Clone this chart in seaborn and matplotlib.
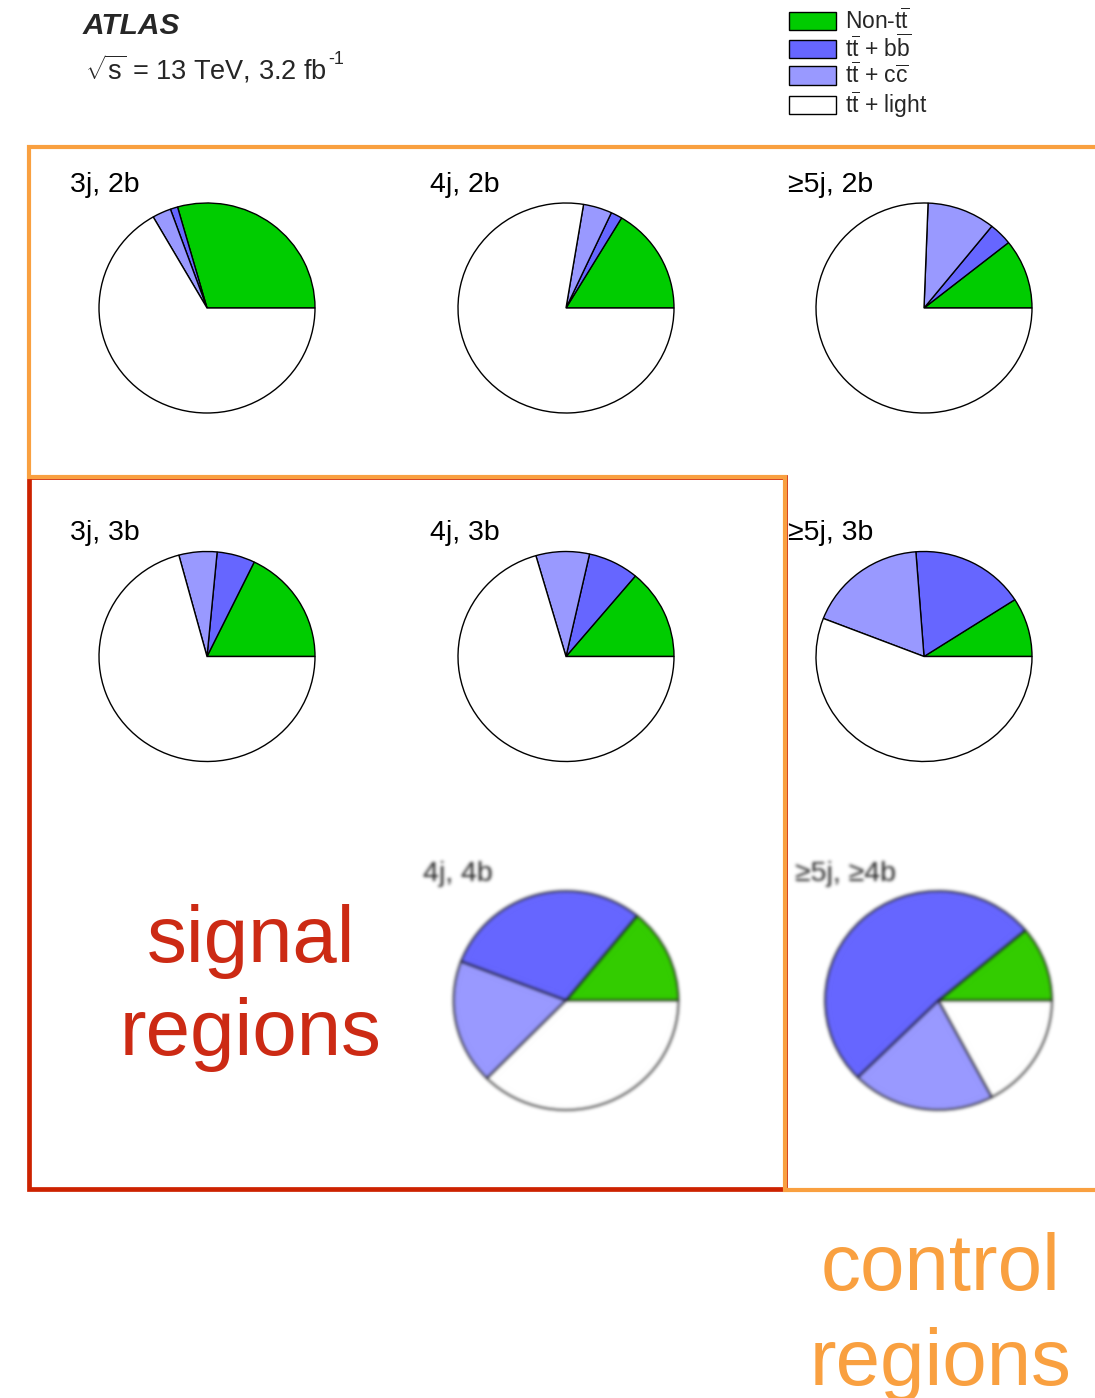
import numpy as np
import matplotlib
matplotlib.use("Agg")
import matplotlib.pyplot as plt
import seaborn as sns
from matplotlib.lines import Line2D
from matplotlib.patches import Rectangle

# Sample composition per analysis region (fractions of the total yield)
regions = ["3j, 2b", "4j, 2b", "\u22655j, 2b",
           "3j, 3b", "4j, 3b", "\u22655j, 3b",
           "4j, 4b", "\u22655j, \u22654b"]
non_tt = [0.294, 0.164, 0.107, 0.178, 0.139, 0.091, 0.141, 0.111]
tt_bb = [0.011, 0.017, 0.035, 0.057, 0.076, 0.171, 0.301, 0.513]
tt_cc = [0.028, 0.043, 0.102, 0.057, 0.080, 0.179, 0.184, 0.204]
tt_light = [0.667, 0.776, 0.756, 0.708, 0.705, 0.559, 0.374, 0.172]

legend_labels = [r"Non-t$\overline{\mathrm{t}}$",
                 r"t$\overline{\mathrm{t}}$ + b$\overline{\mathrm{b}}$",
                 r"t$\overline{\mathrm{t}}$ + c$\overline{\mathrm{c}}$",
                 r"t$\overline{\mathrm{t}}$ + light"]

sns.set_theme(style="white")
plt.rcParams["font.family"] = ["Liberation Sans", "DejaVu Sans"]
plt.rcParams["mathtext.fontset"] = "custom"
plt.rcParams["mathtext.rm"] = "Liberation Sans"
plt.rcParams["mathtext.it"] = "Liberation Sans:italic"
plt.rcParams["mathtext.bf"] = "Liberation Sans:bold"

colors_main = sns.color_palette(["#00cc00", "#6666ff", "#9999ff", "#ffffff"])
colors_old = sns.color_palette(["#33cc00", "#6666ff", "#9999ff", "#ffffff"])
RED = "#cc2200"
ORANGE = "#f9a040"

W, H = 1095, 1398
fig = plt.figure(figsize=(W / 100, H / 100), dpi=100)
fig.patch.set_facecolor("white")


def fx(x):
    return x / W


def fy(y):
    return 1 - y / H


def gaussian_blur(sigma):
    """agg_filter that softens everything an artist draws."""
    def _filter(im, dpi):
        pad = int(3 * sigma) + 1
        k = np.arange(-pad, pad + 1)
        kern = np.exp(-0.5 * (k / sigma) ** 2)
        kern /= kern.sum()
        img = np.pad(im, ((pad, pad), (pad, pad), (0, 0)))
        a = img[..., 3:4]
        pm = np.concatenate([img[..., :3] * a, a], axis=2)
        for axis in (0, 1):
            pm = np.apply_along_axis(lambda v: np.convolve(v, kern, mode="same"), axis, pm)
        alpha = pm[..., 3:4]
        rgb = np.where(alpha > 1e-6, pm[..., :3] / np.maximum(alpha, 1e-6), 0)
        out = np.concatenate([rgb, alpha], axis=2)
        return np.clip(out, 0, 1), -pad, -pad
    return _filter


# pie centres and radii (x, y) in pixels
centres = [(207, 308), (566, 308), (924, 308),
           (207, 656.5), (566, 656.5), (924, 656.5),
           (566, 1000.5), (938.5, 1000.5)]
radii = [(108, 105)] * 6 + [(112.5, 109.5), (113.5, 109.5)]
title_pos = [(70, 185), (430, 185), (788, 185),
             (70, 533), (430, 533), (788, 533),
             (423, 874), (795, 874)]

legend_handles = None
for i, name in enumerate(regions):
    cx, cy = centres[i]
    rx, ry = radii[i]
    sx, sy = 2.5 * rx, 2.5 * ry
    ax = fig.add_axes([fx(cx - sx / 2), fy(cy + sy / 2), sx / W, sy / H])
    vals = [non_tt[i], tt_bb[i], tt_cc[i], tt_light[i]]
    old = i >= 6
    wedges, _ = ax.pie(vals, colors=colors_old if old else colors_main,
                       startangle=0, counterclock=True, radius=1.0,
                       wedgeprops=dict(edgecolor="black", linewidth=1.0))
    ax.set_aspect("auto")
    ax.set_xlim(-1.25, 1.25)
    ax.set_ylim(-1.25, 1.25)
    if i == 0:
        legend_handles = wedges
    tx, ty = title_pos[i]
    if old:
        ax.text(fx(tx), fy(ty), name, transform=fig.transFigure, ha="left",
                va="center", fontsize=20.5, color="#222222")
        ax.set_agg_filter(gaussian_blur(1.6))
    else:
        fig.text(fx(tx), fy(ty), name, ha="left", va="center", fontsize=20.5,
                 color="black")

# header
fig.text(fx(83), fy(26), "ATLAS", fontsize=21.5, fontweight="bold",
         fontstyle="italic", ha="left", va="center")
lumi = fig.text(fx(85), fy(69), r"$\sqrt{\mathrm{s}}$ = 13 TeV, 3.2 fb",
                fontsize=19.5, ha="left", va="center")
fig.canvas.draw()
bb = lumi.get_window_extent()
fig.text(bb.x1 / W + 1 / W, fy(60), "-1", fontsize=13, ha="left",
         va="center")

fig.legend(legend_handles, legend_labels, loc="upper left",
           bbox_to_anchor=(fx(789), fy(8)), frameon=False, fontsize=16.5,
           handlelength=2.05, handleheight=0.85, handletextpad=0.4,
           labelspacing=0.03, borderpad=0, borderaxespad=0)

# region frames
xs = [1095, 29, 29, 785, 785, 1095]
ys = [147, 147, 477, 477, 1190, 1190]
fig.add_artist(Line2D([fx(x) for x in xs], [fy(y) for y in ys],
                      transform=fig.transFigure, color=ORANGE, lw=3.0,
                      solid_joinstyle="miter"))
fig.add_artist(Rectangle((fx(29), fy(1189)), (785 - 29) / W, (1189 - 477) / H,
                         transform=fig.transFigure, fill=False,
                         edgecolor=RED, lw=3.4, joinstyle="miter"))

fig.text(fx(251), fy(962), "signal", ha="center", va="baseline",
         fontsize=57.5, color="#cc2a14")
fig.text(fx(251), fy(1055), "regions", ha="center", va="baseline",
         fontsize=57.5, color="#cc2a14")
fig.text(fx(941), fy(1290), "control", ha="center", va="baseline",
         fontsize=57.5, color=ORANGE)
fig.text(fx(941), fy(1385), "regions", ha="center", va="baseline",
         fontsize=57.5, color=ORANGE)

fig.savefig("out.png", dpi=100, facecolor="white")
